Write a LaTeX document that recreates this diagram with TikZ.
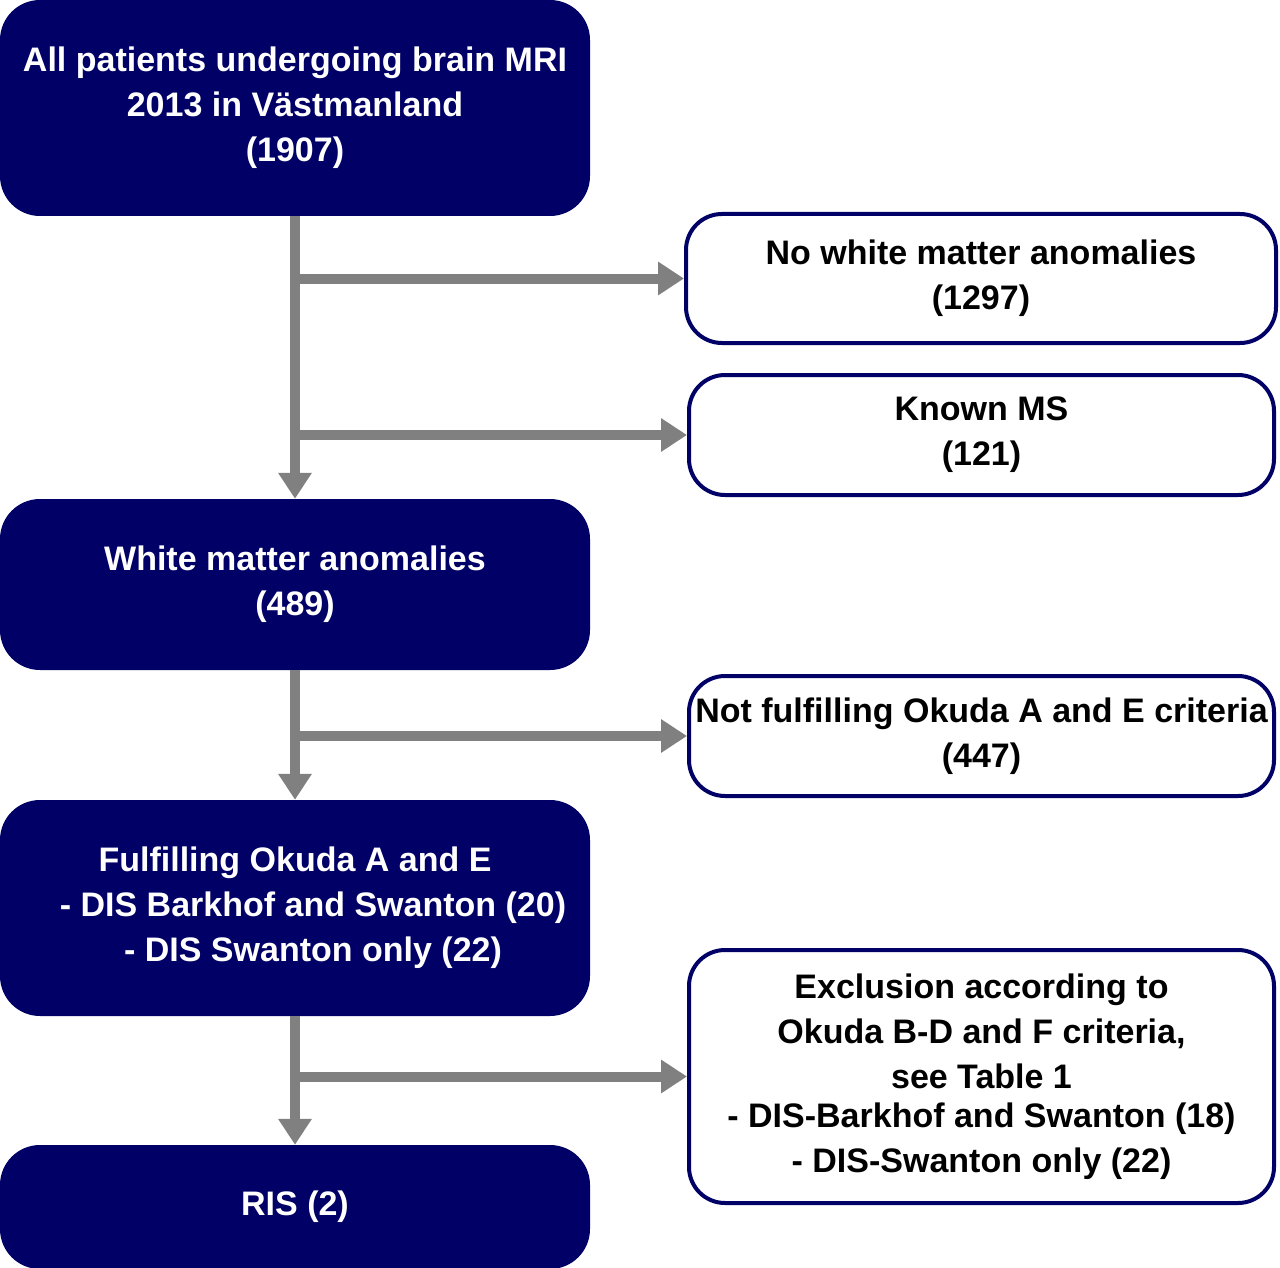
\documentclass[tikz,border=0pt]{standalone}
\usepackage{fontspec}
\setmainfont{Liberation Sans}
\usetikzlibrary{arrows.meta}
\definecolor{navy}{RGB}{0,0,102}
\definecolor{arrgray}{RGB}{128,128,128}
\tikzset{
  darkbox/.style={rectangle, rounded corners=40pt, fill=navy, draw=none, text=white,
    align=center, inner sep=0pt, font=\fontsize{34}{45}\selectfont\bfseries},
  whitebox/.style={rectangle, rounded corners=36pt, fill=white, draw=navy, line width=4pt, text=black,
    align=center, inner sep=0pt, font=\fontsize{34}{45}\selectfont\bfseries},
  arr/.style={draw=arrgray, line width=10pt, -{Triangle[width=32pt,length=26pt]}}
}
\begin{document}
\begin{tikzpicture}[x=1pt,y=-1pt]
\useasboundingbox (0,0) rectangle (1280,1268);
% dark boxes
\node[darkbox, minimum width=590pt, minimum height=216pt] (A) at (295,108)
  {All patients undergoing brain MRI\\2013 in Västmanland\\(1907)};
\node[darkbox, minimum width=590pt, minimum height=171pt] (D) at (295,584.5)
  {White matter anomalies\\(489)};
\node[darkbox, minimum width=590pt, minimum height=216pt] (F) at (295,908)
  {Fulfilling Okuda A and E\\\hspace*{36pt}- DIS Barkhof and Swanton (20)\\\hspace*{36pt}- DIS Swanton only (22)};
\node[darkbox, minimum width=590pt, minimum height=124pt] (H) at (295,1207)
  {RIS (2)};
% white boxes
\node[whitebox, minimum width=590pt, minimum height=129pt] (B) at (981,278.5)
  {No white matter anomalies\\(1297)};
\node[whitebox, minimum width=585pt, minimum height=120pt] (C) at (981.5,435)
  {Known MS\\(121)};
\node[whitebox, minimum width=585pt, minimum height=120pt] (E) at (981.5,736)
  {Not fulfilling Okuda A and E criteria\\(447)};
\node[whitebox, minimum width=585pt, minimum height=253pt] (G) at (981.5,1076.5)
  {Exclusion according to\\Okuda B-D and F criteria,\\see Table 1\\[-6pt]- DIS-Barkhof and Swanton (18)\\- DIS-Swanton only (22)};
% connectors
\draw[arr] (A.south) -- (D.north);
\draw[arr] (A.south |- B.west) -- (B.west);
\draw[arr] (A.south |- C.west) -- (C.west);
\draw[arr] (D.south) -- (F.north);
\draw[arr] (D.south |- E.west) -- (E.west);
\draw[arr] (F.south) -- (H.north);
\draw[arr] (F.south |- G.west) -- (G.west);
\end{tikzpicture}
\end{document}
